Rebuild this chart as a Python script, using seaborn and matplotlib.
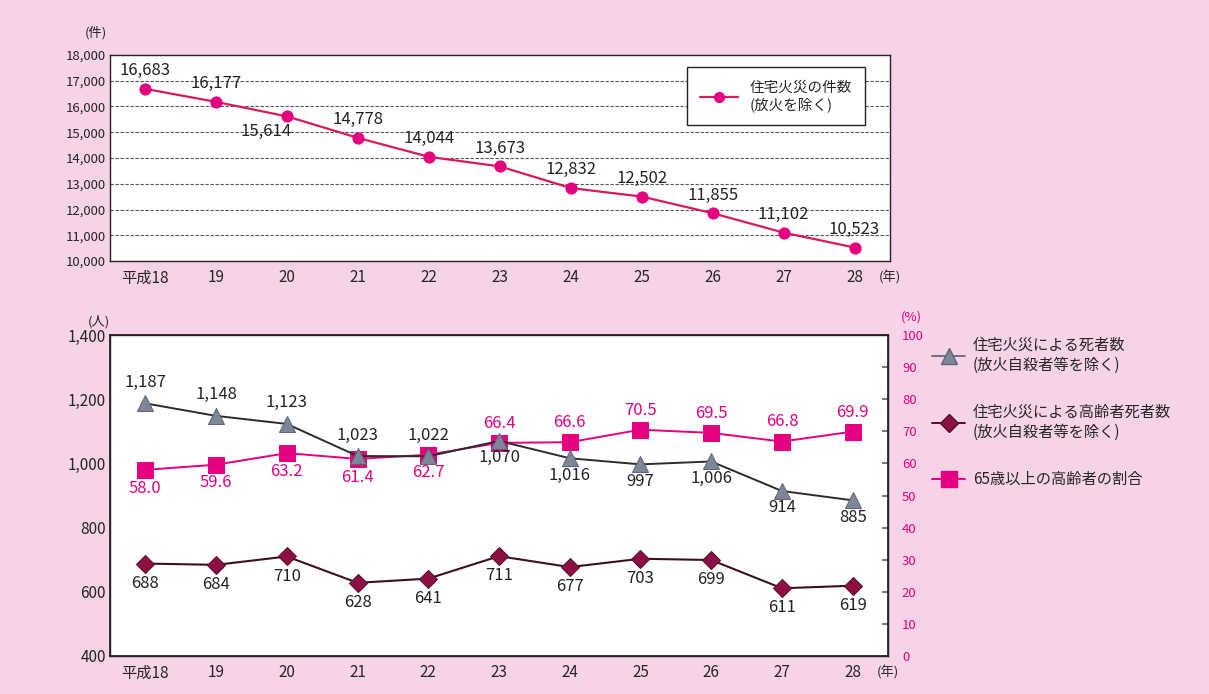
import numpy as np
import pandas as pd
import matplotlib
matplotlib.use('Agg')
import matplotlib.pyplot as plt
import seaborn as sns
from matplotlib.lines import Line2D
from matplotlib.patches import Rectangle

sns.set_theme(style='white', rc={'axes.facecolor': 'white'})
plt.rcParams['font.family'] = ['Noto Sans CJK JP', 'DejaVu Sans']

# data
years = ['平成18', '19', '20', '21', '22', '23', '24', '25', '26', '27', '28']
fires = [16683, 16177, 15614, 14778, 14044, 13673, 12832, 12502, 11855, 11102, 10523]
deaths = [1187, 1148, 1123, 1023, 1022, 1070, 1016, 997, 1006, 914, 885]
elderly_deaths = [688, 684, 710, 628, 641, 711, 677, 703, 699, 611, 619]
elderly_ratio = [58.0, 59.6, 63.2, 61.4, 62.7, 66.4, 66.6, 70.5, 69.5, 66.8, 69.9]

# label placement (1 = above, -1 = below)
fires_pos = [1, 1, -1, 1, 1, 1, 1, 1, 1, 1, 1]
deaths_pos = [1, 1, 1, 1, 1, -1, -1, -1, -1, -1, -1]
ratio_pos = [-1, -1, -1, -1, -1, 1, 1, 1, 1, 1, 1]

pink_bg = '#f6d3e7'
magenta = '#e4007f'
crimson = '#d9195e'
maroon = '#8c1044'
grey_tri = '#7d8798'

df = pd.DataFrame({'x': np.arange(len(years)), 'fires': fires, 'deaths': deaths,
                   'elderly': elderly_deaths, 'ratio': elderly_ratio})

fig = plt.figure(figsize=(12.09, 6.94), dpi=100)
fig.patch.set_facecolor(pink_bg)
W, H = 1209, 694
ax1 = fig.add_axes([110 / W, 1 - 261 / H, 780 / W, 206 / H])
ax2 = fig.add_axes([110 / W, 1 - 656 / H, 778 / W, 321 / H])
ax3 = ax2.twinx()

# white plot backgrounds
ax1.add_patch(Rectangle((0, 0), 1, 1, transform=ax1.transAxes, facecolor='white',
                        edgecolor='none', zorder=-10))
ax3.add_patch(Rectangle((0, 0), 1, 1, transform=ax3.transAxes, facecolor='white',
                        edgecolor='none', zorder=-10))

# ---- top chart
sns.lineplot(data=df, x='x', y='fires', ax=ax1, color=crimson, lw=1.6,
             marker='o', markersize=8, markerfacecolor=magenta, markeredgecolor=magenta)
ax1.set_ylim(10000, 18000)
ax1.set_yticks(range(10000, 18001, 1000))
ax1.set_yticklabels([f'{v:,}' for v in range(10000, 18001, 1000)], fontsize=9.5)
for v in range(11000, 18000, 1000):
    ax1.axhline(v, color='#555555', lw=0.8, ls=(0, (3, 1.5)), zorder=0)
for i, v in enumerate(fires):
    if fires_pos[i] > 0:
        ax1.annotate(f'{v:,}', (i, v), xytext=(0, 7), textcoords='offset points',
                     ha='center', va='bottom', fontsize=12, color='#222222')
    else:
        ax1.annotate(f'{v:,}', (i, v), xytext=(-15, -5), textcoords='offset points',
                     ha='center', va='top', fontsize=12, color='#222222')
leg1 = ax1.legend(handles=[Line2D([0], [0], color=crimson, lw=1.6, marker='o', markersize=7,
                                  markerfacecolor=magenta, markeredgecolor=magenta)],
                  labels=['住宅火災の件数\n(放火を除く)'], loc='upper left',
                  bbox_to_anchor=(0.73, 0.975), fontsize=10.5, frameon=True, fancybox=False,
                  facecolor='white', framealpha=1, edgecolor='#222222',
                  handlelength=2.6, borderpad=0.9, handletextpad=0.8)
leg1.get_frame().set_linewidth(1.0)
ax1.text(-0.018, 1.09, '(件)', transform=ax1.transAxes, fontsize=9.5, ha='center')
ax1.text(1.0, -0.045, '(年)', transform=ax1.transAxes, fontsize=9.5, ha='center', va='top')

# ---- bottom chart
sns.lineplot(data=df, x='x', y='ratio', ax=ax3, color=magenta, lw=1.4, marker='s',
             markersize=11, markerfacecolor=magenta, markeredgecolor=magenta, zorder=2)
sns.lineplot(data=df, x='x', y='elderly', ax=ax2, color='#3a1020', lw=1.5, marker='D',
             markersize=9, markerfacecolor=maroon, markeredgecolor='#5a0a28')
sns.lineplot(data=df, x='x', y='deaths', ax=ax2, color='#2b2b2b', lw=1.4, marker='^',
             markersize=11, markerfacecolor=grey_tri, markeredgecolor='#5d6575')
ax3.set_ylim(0, 100)
ax2.set_ylim(400, 1400)

ax2.set_yticks(range(400, 1401, 200))
ax2.set_yticklabels([f'{v:,}' for v in range(400, 1401, 200)], fontsize=11)
ax3.set_yticks(range(0, 101, 10))
ax3.set_yticklabels([str(v) for v in range(0, 101, 10)], fontsize=9.5, color=magenta)
ax3.tick_params(axis='y', direction='in', length=4, color='#666666', pad=10)

for i, v in enumerate(deaths):
    if deaths_pos[i] > 0:
        ax2.annotate(f'{v:,}', (i, v), xytext=(0, 9), textcoords='offset points',
                     ha='center', va='bottom', fontsize=12, color='#222222')
    else:
        ax2.annotate(f'{v:,}', (i, v), xytext=(0, -6), textcoords='offset points',
                     ha='center', va='top', fontsize=12, color='#222222')
for i, v in enumerate(elderly_deaths):
    ax2.annotate(f'{v:,}', (i, v), xytext=(0, -8), textcoords='offset points',
                 ha='center', va='top', fontsize=12, color='#222222')
for i, v in enumerate(elderly_ratio):
    if ratio_pos[i] > 0:
        ax3.annotate(f'{v:.1f}', (i, v), xytext=(0, 8), textcoords='offset points',
                     ha='center', va='bottom', fontsize=12, color=magenta)
    else:
        ax3.annotate(f'{v:.1f}', (i, v), xytext=(0, -7), textcoords='offset points',
                     ha='center', va='top', fontsize=12, color=magenta)

ax2.text(-0.014, 1.03, '(人)', transform=ax2.transAxes, fontsize=9.5, ha='center')
ax2.text(1.03, 1.045, '(%)', transform=ax2.transAxes, fontsize=9.5, ha='center', color=magenta)
ax2.text(1.0, -0.03, '(年)', transform=ax2.transAxes, fontsize=9.5, ha='center', va='top')

handles = [Line2D([0], [0], color='#556070', lw=1.2, marker='^', markersize=11,
                  markerfacecolor=grey_tri, markeredgecolor='#5d6575'),
           Line2D([0], [0], color='#5a0a28', lw=1.4, marker='D', markersize=9,
                  markerfacecolor=maroon, markeredgecolor='#5a0a28'),
           Line2D([0], [0], color=magenta, lw=1.4, marker='s', markersize=11,
                  markerfacecolor=magenta, markeredgecolor=magenta)]
labels = ['住宅火災による死者数\n(放火自殺者等を除く)',
          '住宅火災による高齢者死者数\n(放火自殺者等を除く)',
          '65歳以上の高齢者の割合']
fig.legend(handles=handles, labels=labels, loc='upper left', bbox_to_anchor=(918 / W, 1 - 323 / H),
           frameon=False, fontsize=11, handlelength=2.2, labelspacing=2.0,
           handletextpad=0.5)

for ax in (ax1, ax2):
    ax.set_xlim(-0.5, len(years) - 0.5)
    ax.set_xticks(np.arange(len(years)))
    ax.set_xticklabels(years, fontsize=11)
    ax.set_xlabel('')
    ax.set_ylabel('')
    ax.set_xticks(np.arange(0.5, len(years) - 1, 1), minor=True)
    ax.tick_params(axis='x', which='major', length=0, pad=6)
    ax.tick_params(axis='x', which='minor', direction='in', length=5, color='#555555')
    ax.tick_params(axis='y', length=0, pad=3)
    for s in ax.spines.values():
        s.set_color('#222222')
        s.set_linewidth(1.0)

# deaths axis drawn above the percent axis so triangles cover squares
ax2.set_zorder(ax3.get_zorder() + 1)
ax2.patch.set_visible(False)
ax3.set_ylabel('')
for s in ax3.spines.values():
    s.set_color('#222222')

fig.savefig('out.png', dpi=100, facecolor=pink_bg)
